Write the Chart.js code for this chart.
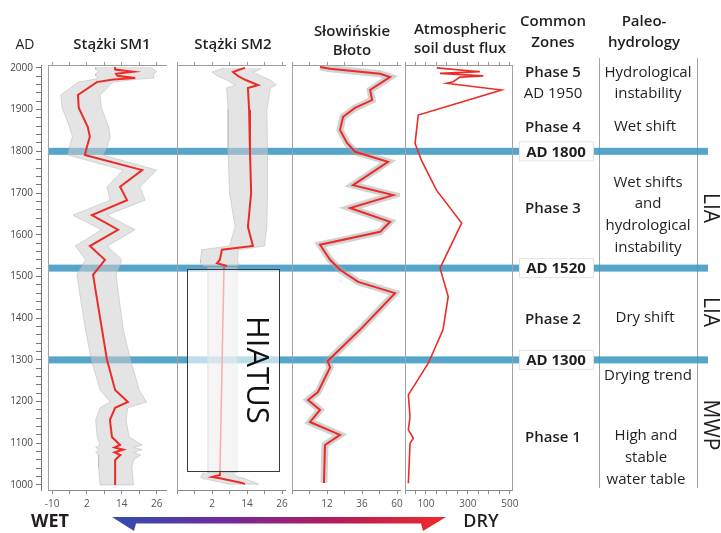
<!DOCTYPE html>
<html>
<head>
<meta charset="utf-8">
<script src="https://cdn.jsdelivr.net/npm/chart.js@4.4.1/dist/chart.umd.min.js"></script>
<style>
  html, body { margin: 0; padding: 0; background: #fff; }
  #wrap { position: relative; width: 721px; height: 533px; overflow: hidden; }
  #wrap canvas { position: absolute; top: 0; }
</style>
</head>
<body>
<div id="wrap">
  <canvas id="zones"></canvas>
  <canvas id="yaxis"></canvas>
  <canvas id="p1"></canvas>
  <canvas id="p2"></canvas>
  <canvas id="p3"></canvas>
  <canvas id="p4"></canvas>
</div>
<script>
// ---- data ----
const yearMin = 988, yearMax = 2007;
const boundaryYears = [1800, 1520, 1300];

// Stążki SM1 (depth to water table reconstruction)
const sm1Years = [2002, 1996, 1991, 1986, 1981, 1976, 1972, 1966, 1935, 1904, 1858, 1835, 1811, 1791, 1755, 1715, 1683, 1647, 1612, 1573, 1540, 1504, 1372, 1300, 1228, 1199, 1185, 1156, 1115, 1096, 1090, 1085, 1078, 1072, 1060, 1043, 1000];
const sm1 =     [11.7, 11.7, 17.9, 12.0, 12.5, 18.6, 11.0, 5.4, -1.1, -0.8, 2.3, 3.0, 2.0, 1.3, 21.0, 13.4, 15.8, 3.7, 12.7, 3.0, 8.2, 4.1, 7.2, 8.9, 11.7, 16.1, 11.7, 9.9, 10.6, 13.4, 11.5, 14.5, 11.5, 13.5, 11.7, 11.7, 11.7];
const sm1Low =  [5, 5, 6, 5, 5, 6, 4, -1, -7, -6.5, -4, -3, -4, -4.5, 14.4, 8.9, 10, -2.8, 7, -2, 1.5, -1.5, 1.5, 3.5, 6.5, 10, 6.5, 5, 5.5, 6.5, 5, 6, 5, 6, 6, 6, 6.5];
const sm1High = [24, 25, 26, 25, 25, 25, 18, 11, 6.5, 7, 9.5, 10, 9, 7.5, 26, 20.3, 22, 8.9, 18.6, 9, 14, 12, 14.5, 17, 20, 22.5, 16, 15.5, 16.5, 21, 18, 21, 18, 20.5, 18, 17.5, 18];

// Stążki SM2
const sm2Years = [2000, 1995, 1990, 1980, 1971, 1959, 1952, 1900, 1800, 1700, 1619, 1573, 1564, 1540, 1532, 1525];
const sm2 =      [13.3, 11.0, 9.2, 11.0, 13.5, 17.8, 14.3, 14.7, 15.0, 15.4, 14.3, 16.0, 5.4, 4.7, 3.7, 7.1];
const sm2Low =   [6, 4, 2, 4, 7, 10, 7, 7.5, 7.5, 8, 9.9, 8, -1.5, -2, -2, -1];
const sm2High =  [19, 18, 16, 19, 22, 24, 22, 20.8, 21, 21, 20.8, 20, 11, 10.7, 11, 11];
const sm2HiatusYears = [1522, 1030];
const sm2Hiatus =      [6.1, 4.7];
const sm2HiatusLow =   [0.6, 0.6];
const sm2HiatusHigh =  [10.6, 10.6];
const sm2BaseYears = [1030, 1024, 1019, 1016, 1005, 1002];
const sm2Base =      [4.7, 4.7, 2.0, 4.7, 12.3, 13.3];
const sm2BaseLow =   [-1, -1.5, -2, -1.5, 6, 8];
const sm2BaseHigh =  [9, 10, 11, 13, 17, 18];
const hiatusSpan = [1034, 1518];

// Słowińskie Błoto
const sbYears = [2002, 1998, 1986, 1978, 1947, 1923, 1904, 1883, 1851, 1820, 1799, 1775, 1719, 1695, 1664, 1631, 1607, 1576, 1540, 1516, 1487, 1460, 1372, 1297, 1282, 1223, 1204, 1180, 1151, 1120, 1096, 1005];
const sb =      [7.2, 14.0, 48.4, 55.2, 41.5, 42.9, 31.2, 23.0, 20.9, 25.7, 31.2, 53.8, 29.8, 57.3, 27.8, 55.2, 48.4, 7.2, 14.1, 20.9, 33.3, 58.6, 34.6, 12.4, 14.1, 5.8, -1.0, 7.2, 0.3, 20.9, 10.6, 9.9];

// Atmospheric soil dust flux
const dustYears = [2000, 1991, 1987, 1981, 1978, 1967, 1963, 1947, 1887, 1819, 1779, 1707, 1628, 1520, 1452, 1372, 1292, 1216, 1164, 1132, 1112, 1100, 1004];
const dust =      [151, 357, 167, 373, 262, 230, 198, 460, 63, 48, 78, 150, 270, 167, 206, 181, 111, 16, 24, 16, 40, 24, 16];

// axis ticks
const tmTicks = [-10, -4, 2, 8, 14, 20, 26];
const sm1Labels = [-10, 2, 14, 26];
const sm2Labels = [2, 14, 26];
const sbTicks = [-12, 0, 12, 24, 36, 48, 60];
const sbLabels = [12, 36, 60];
const dustTicks = [0, 50, 100, 150, 200, 250, 300, 350, 400, 450, 500];
const dustLabels = [100, 300, 500];

// ---- drawing ----
const H = 533, PAD = 14;
const RED = '#ec2b27';
const TXT = '#231f20';
const FONT = '"Open Sans", sans-serif';

function line(years, vals, color, width, order) {
  return { data: years.map((y, i) => ({ x: vals[i], y })), borderColor: color, borderWidth: width,
    pointRadius: 0, fill: false, tension: 0, order };
}
function band(years, low, high, color, order) {
  const pts = years.map((y, i) => ({ x: low[i], y }))
    .concat(years.map((y, i) => ({ x: high[i], y })).reverse());
  return { data: pts, borderColor: 'rgba(180,180,180,0.6)', borderWidth: 0.8, backgroundColor: color,
    fill: 'shape', pointRadius: 0, tension: 0, order };
}

function panel(id, area, xRange, tickVals, tickLabels, datasets, extra) {
  extra = extra || {};
  const cv = document.getElementById(id);
  cv.width = area[1] - area[0] + 2 * PAD;
  cv.height = H;
  cv.style.left = (area[0] - PAD) + 'px';
  const setTicks = s => { s.ticks = tickVals.map(v => ({ value: v })); };
  const yBorder = pos => ({ type: 'linear', position: pos, min: yearMin, max: yearMax,
    afterFit: s => { s.width = 0; }, ticks: { display: false },
    grid: { drawOnChartArea: false, drawTicks: false }, border: { color: '#a3a3a3' } });
  const scales = {
    x: { type: 'linear', position: 'bottom', min: xRange[0], max: xRange[1],
      afterBuildTicks: setTicks, afterFit: s => { s.height = 28; },
      grid: { drawOnChartArea: false, tickLength: 4, color: '#8a8a8a' },
      border: { color: '#8a8a8a' },
      ticks: { autoSkip: false, maxRotation: 0, padding: 4, color: '#555',
        font: { family: FONT, size: 10 },
        callback: v => tickLabels.includes(v) ? String(v) : '' } },
    xTop: { type: 'linear', position: 'top', min: xRange[0], max: xRange[1],
      afterBuildTicks: setTicks, afterFit: s => { s.height = 4; },
      grid: { drawOnChartArea: false, tickLength: 3, color: '#9a9a9a' },
      border: { color: '#9a9a9a' }, ticks: { display: false } },
    y: yBorder('left')
  };
  if (extra.rightBorder) scales.y2 = yBorder('right');
  return new Chart(cv, {
    type: 'line',
    data: { datasets },
    options: {
      responsive: false, animation: false, devicePixelRatio: 1, events: [],
      layout: { padding: { top: 61, bottom: 15, left: PAD, right: PAD } },
      scales,
      plugins: { legend: { display: false }, tooltip: { enabled: false } }
    },
    plugins: extra.plugins || []
  });
}

// hiatus box in SM2
const hiatusPlugin = {
  id: 'hiatus',
  afterDatasetsDraw(chart) {
    const { ctx } = chart;
    const xs = chart.scales.x, ys = chart.scales.y;
    const x1 = xs.getPixelForValue(-6.5), x2 = xs.getPixelForValue(25);
    const y1 = ys.getPixelForValue(hiatusSpan[1]), y2 = ys.getPixelForValue(hiatusSpan[0]);
    ctx.save();
    ctx.fillStyle = 'rgba(255,255,255,0.62)';
    ctx.fillRect(x1, y1, x2 - x1, y2 - y1);
    ctx.strokeStyle = '#3a3a3a';
    ctx.lineWidth = 1;
    ctx.strokeRect(Math.round(x1) + 0.5, Math.round(y1) + 0.5, Math.round(x2 - x1), Math.round(y2 - y1));
    ctx.translate(x2 - 23, (y1 + y2) / 2);
    ctx.rotate(Math.PI / 2);
    ctx.fillStyle = '#111';
    ctx.font = '400 31px ' + FONT;
    ctx.textAlign = 'center';
    ctx.textBaseline = 'middle';
    ctx.fillText('HIATUS', 0, 0);
    ctx.restore();
  }
};

// background: zone bands, text columns, headers, wet/dry arrow
const zoneText = [
  ['AD', 25, 45, '400 14px'],
  ['Stążki SM1', 112, 45, '600 15px'],
  ['Stążki SM2', 233, 45, '600 15px'],
  ['Słowińskie', 352, 32, '600 15px'],
  ['Błoto', 352, 51, '600 15px'],
  ['Atmospheric', 460, 30, '600 15px'],
  ['soil dust flux', 460, 49, '600 15px'],
  ['Common', 553, 22, '600 15px'],
  ['Zones', 553, 43, '600 15px'],
  ['Paleo-', 644, 22, '600 15px'],
  ['hydrology', 644, 43, '600 15px'],
  ['Phase 5', 553, 73, '600 15px'],
  ['AD 1950', 553, 94, '400 15px'],
  ['Phase 4', 553, 128, '600 15px'],
  ['Phase 3', 553, 209, '600 15px'],
  ['Phase 2', 553, 320, '600 15px'],
  ['Phase 1', 553, 438, '600 15px'],
  ['Hydrological', 648, 73, '400 15px'],
  ['instability', 648, 94, '400 15px'],
  ['Wet shift', 645, 127, '400 15px'],
  ['Wet shifts', 648, 183, '400 15px'],
  ['and', 648, 204, '400 15px'],
  ['hydrological', 648, 226, '400 15px'],
  ['instability', 648, 248, '400 15px'],
  ['Dry shift', 645, 318, '400 15px'],
  ['Drying trend', 648, 376, '400 15px'],
  ['High and', 646, 436, '400 15px'],
  ['stable', 646, 458, '400 15px'],
  ['water table', 646, 480, '400 15px'],
  ['WET', 50, 522, '700 18px'],
  ['DRY', 481, 522, '600 18px']
];
const sideText = [['LIA', 710, 208], ['LIA', 710, 312], ['MWP', 710, 425]];

const zonesPlugin = {
  id: 'zones',
  afterDraw(chart) {
    const { ctx } = chart;
    const ys = chart.scales.y;
    ctx.save();
    // column rules
    ctx.strokeStyle = '#a3a3a3';
    ctx.lineWidth = 1;
    [599.5, 697.5].forEach(x => {
      ctx.beginPath(); ctx.moveTo(x, 58); ctx.lineTo(x, 488); ctx.stroke();
    });
    // boundary bands
    ctx.fillStyle = 'rgba(62,152,196,0.88)';
    boundaryYears.forEach(yr => {
      const y = ys.getPixelForValue(yr);
      ctx.fillRect(48, y - 3.5, 660, 7);
    });
    // boundary labels
    ctx.textAlign = 'center';
    ctx.textBaseline = 'middle';
    boundaryYears.forEach(yr => {
      const y = ys.getPixelForValue(yr);
      ctx.fillStyle = '#fff';
      ctx.fillRect(519, y - 10, 75, 20);
      ctx.strokeStyle = '#e3e3e3';
      ctx.strokeRect(519.5, y - 9.5, 74, 19);
      ctx.fillStyle = TXT;
      ctx.font = '700 15px ' + FONT;
      ctx.fillText('AD ' + yr, 556, y + 1);
    });
    // text
    zoneText.forEach(([t, x, y, f]) => {
      ctx.fillStyle = TXT;
      ctx.font = f + ' ' + FONT;
      ctx.fillText(t, x, y);
    });
    sideText.forEach(([t, x, y]) => {
      ctx.save();
      ctx.translate(x, y);
      ctx.rotate(Math.PI / 2);
      ctx.fillStyle = TXT;
      ctx.font = '400 21px ' + FONT;
      ctx.fillText(t, 0, 0);
      ctx.restore();
    });
    // wet -> dry arrow
    const g = ctx.createLinearGradient(112, 0, 445, 0);
    g.addColorStop(0, '#2f4fae');
    g.addColorStop(0.35, '#74299a');
    g.addColorStop(0.68, '#b31d5a');
    g.addColorStop(1, '#ef2a28');
    ctx.fillStyle = g;
    ctx.beginPath();
    ctx.moveTo(112, 517);
    ctx.lineTo(446, 517);
    ctx.lineTo(423, 531);
    ctx.lineTo(421, 523.5);
    ctx.lineTo(136, 523.5);
    ctx.lineTo(134, 531);
    ctx.closePath();
    ctx.fill();
    ctx.restore();
  }
};

const zc = document.getElementById('zones');
zc.width = 721; zc.height = H; zc.style.left = '0px';
new Chart(zc, {
  type: 'line',
  data: { datasets: [] },
  options: {
    responsive: false, animation: false, devicePixelRatio: 1, events: [],
    layout: { padding: { top: 65, bottom: 43, left: 0, right: 0 } },
    scales: {
      x: { type: 'linear', display: false, min: 0, max: 1 },
      y: { type: 'linear', display: false, min: yearMin, max: yearMax }
    },
    plugins: { legend: { display: false }, tooltip: { enabled: false } }
  },
  plugins: [zonesPlugin]
});

// year axis
const yc = document.getElementById('yaxis');
yc.width = 46; yc.height = H; yc.style.left = '0px';
new Chart(yc, {
  type: 'line',
  data: { datasets: [] },
  options: {
    responsive: false, animation: false, devicePixelRatio: 1, events: [],
    layout: { padding: { top: 65, bottom: 43, left: 0, right: 4 } },
    scales: {
      x: { type: 'linear', display: false, min: 0, max: 1 },
      y: { type: 'linear', position: 'left', min: yearMin, max: yearMax,
        afterFit: s => { s.width = 41; },
        grid: { drawOnChartArea: false, tickLength: 5, color: '#777' },
        border: { color: '#777' },
        ticks: { stepSize: 20, includeBounds: false, autoSkip: false, padding: 3, color: '#444',
          font: { family: FONT, size: 10 },
          callback: v => v % 100 === 0 ? String(v) : '' } }
    },
    plugins: { legend: { display: false }, tooltip: { enabled: false } }
  }
});

const GREY = 'rgba(205,205,205,0.55)';

panel('p1', [48, 166], [-11.4, 29.2], tmTicks, sm1Labels, [
  line(sm1Years, sm1, RED, 2, 0),
  band(sm1Years, sm1Low, sm1High, GREY, 2)
]);

panel('p2', [177, 285], [-10, 27], tmTicks, sm2Labels, [
  line(sm2Years, sm2, RED, 2, 0),
  line(sm2HiatusYears, sm2Hiatus, RED, 1.5, 0),
  line(sm2BaseYears, sm2Base, RED, 2, 0),
  band(sm2Years, sm2Low, sm2High, GREY, 2),
  band(sm2HiatusYears, sm2HiatusLow, sm2HiatusHigh, GREY, 2),
  band(sm2BaseYears, sm2BaseLow, sm2BaseHigh, GREY, 2)
], { plugins: [hiatusPlugin] });

panel('p3', [292, 400], [-12, 62], sbTicks, sbLabels, [
  line(sbYears, sb, RED, 2, 0),
  line(sbYears, sb, 'rgba(165,165,165,0.5)', 7, 1)
]);

panel('p4', [405, 512], [0, 510], dustTicks, dustLabels, [
  line(dustYears, dust, RED, 1.6, 0)
], { rightBorder: true });
</script>
</body>
</html>
